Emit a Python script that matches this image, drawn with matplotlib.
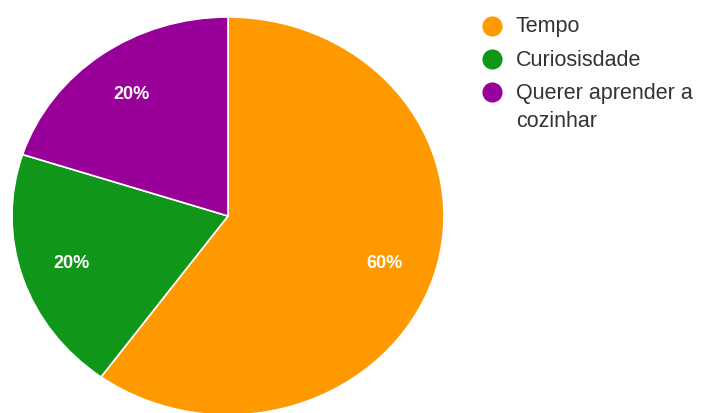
import matplotlib
matplotlib.use("Agg")
import matplotlib.pyplot as plt
from matplotlib.lines import Line2D

categories = ["Tempo", "Curiosisdade", "Querer aprender a\ncozinhar"]
values = [60, 20, 20]
colors = ["#FF9900", "#109618", "#990099"]

W, H = 706, 414
fig = plt.figure(figsize=(W / 100, H / 100), dpi=100)
fig.patch.set_facecolor("white")

# pie axes in pixel box: x 12..444, y 18..416 (from top)
left, right, top, bottom = 12, 444, 18, 416
ax = fig.add_axes([left / W, (H - bottom) / H, (right - left) / W, (bottom - top) / H])
wedges, texts, autotexts = ax.pie(
    values, colors=colors, startangle=90, counterclock=False,
    autopct="%1.0f%%", pctdistance=0.76,
    wedgeprops=dict(edgecolor="white", linewidth=1.2),
    textprops=dict(color="white", fontsize=13, fontweight="bold",
                   family=["Liberation Sans", "DejaVu Sans"]),
)
ax.set_aspect("auto")
ax.set_xlim(-1, 1)
ax.set_ylim(-1, 1)
ax.axis("off")

# legend (manual)
circle_x = 492
circle_y = [27, 60, 93]
text_x = 516
baselines = [32, 66, 99]
line_gap = 28
for i, (cat, col) in enumerate(zip(categories, colors)):
    fig.add_artist(Line2D([circle_x / W], [1 - circle_y[i] / H], marker="o",
                          markersize=13.5, color=col, markeredgecolor=col,
                          linestyle="none", transform=fig.transFigure))
    for j, line in enumerate(cat.split("\n")):
        fig.text(text_x / W, 1 - (baselines[i] + j * line_gap) / H, line,
                 fontsize=15.5, color="#333333", va="baseline", ha="left",
                 family=["Liberation Sans", "DejaVu Sans"])

fig.savefig("out.png", dpi=100, facecolor="white")
